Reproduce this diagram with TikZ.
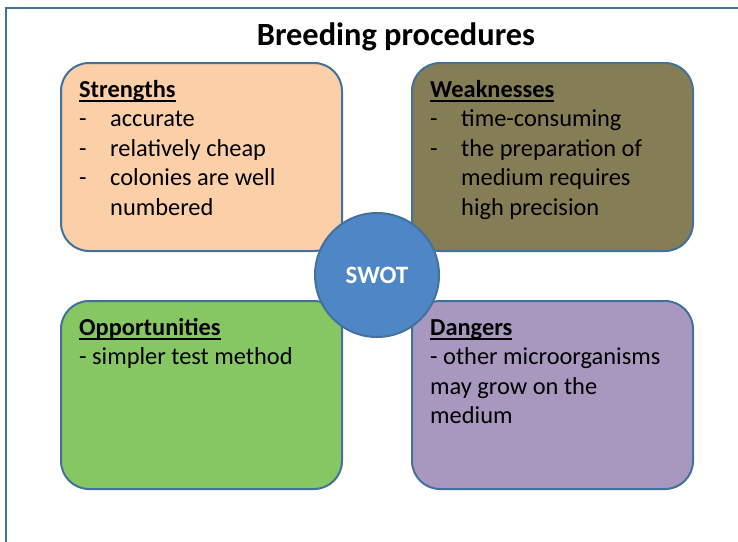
\documentclass[tikz,border=0pt]{standalone}
\usepackage{fontspec}
\setmainfont{Carlito}
\usetikzlibrary{positioning}
\definecolor{swotblue}{RGB}{79,134,198}
\definecolor{edgeblue}{RGB}{65,113,156}
\definecolor{peach}{RGB}{251,207,168}
\definecolor{khaki}{RGB}{133,125,85}
\definecolor{leaf}{RGB}{134,198,99}
\definecolor{lilac}{RGB}{168,152,192}

% underlined heading and list lines
\newcommand{\hd}[1]{\setbox0\hbox{\bfseries #1}\rlap{\rule[-5pt]{\wd0}{2.4pt}}\box0}
\newcommand{\itm}[1]{\makebox[31pt][l]{-}#1}
\newcommand{\cont}[1]{\hspace*{31pt}#1}

\begin{document}
\begin{tikzpicture}
  [x=1pt,y=-1pt,
   box/.style={draw=edgeblue,line width=2pt,rounded corners=28pt,minimum width=281pt,minimum height=188pt},
   txt/.style={align=left,inner sep=0pt,anchor=north west,font=\fontsize{24.4}{29.5}\selectfont}]

  \useasboundingbox (0,0) rectangle (738,541);
  \draw[edgeblue,line width=2pt] (5.5,560) -- (5.5,7.5) -- (760,7.5);

  \node (title) at (396,36.5) {\bfseries\fontsize{32.4}{36}\selectfont Breeding procedures};

  \node[box,fill=peach] (s) at (201.5,157) {};
  \node[box,fill=khaki] (w) at (552.5,157) {};
  \node[box,fill=leaf]  (o) at (201.5,395) {};
  \node[box,fill=lilac] (d) at (552.5,395) {};

  \node[circle,draw=edgeblue,line width=2pt,fill=swotblue,minimum size=124pt,
        text=white,font=\bfseries\fontsize{25}{28}\selectfont] (swot) at (377,275) {SWOT};

  \node[txt,below right=18pt and 19pt of s.north west] (stxt)
    {\hd{Strengths}\\ \itm{accurate}\\ \itm{relatively cheap}\\ \itm{colonies are well}\\ \cont{numbered}};
  \node[txt,below right=18pt and 19pt of w.north west] (wtxt)
    {\hd{Weaknesses}\\ \itm{time-consuming}\\ \itm{the preparation of}\\ \cont{medium requires}\\ \cont{high precision}};
  \node[txt,below right=18pt and 19pt of o.north west] (otxt)
    {\hd{Opportunities}\\ - simpler test method};
  \node[txt,below right=19pt and 19pt of d.north west] (dtxt)
    {\hd{Dangers}\\ - other microorganisms\\ may grow on the\\ medium};
\end{tikzpicture}
\end{document}
